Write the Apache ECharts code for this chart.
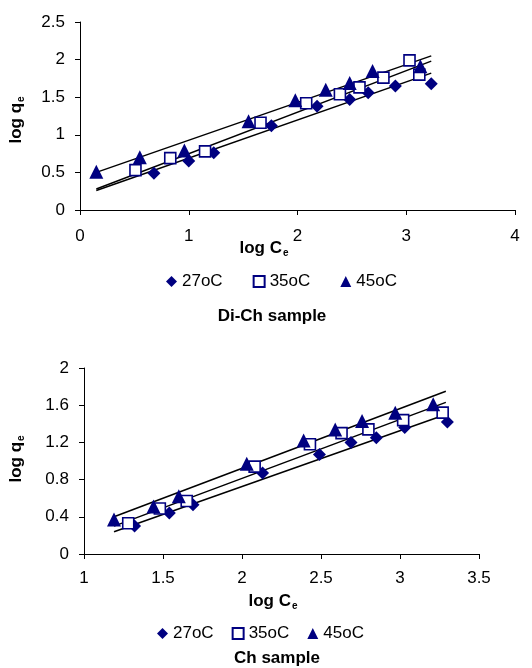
<!DOCTYPE html>
<html><head><meta charset="utf-8">
<script src="https://cdn.jsdelivr.net/npm/echarts@6/dist/echarts.min.js"></script>
<style>html,body{margin:0;padding:0;background:#fff}#c{width:532px;height:668px}</style>
</head><body><div id="c"></div>
<script>
const seriesNames = ['27oC', '35oC', '45oC'];

// Di-Ch sample (top chart): [log Ce, log qe]
const diCh27 = [[0.68,0.49],[1.00,0.65],[1.23,0.76],[1.76,1.12],[2.18,1.38],[2.48,1.47],[2.65,1.56],[2.90,1.65],[3.23,1.68]];
const diCh35 = [[0.51,0.53],[0.83,0.69],[1.15,0.78],[1.66,1.16],[2.08,1.42],[2.39,1.54],[2.57,1.63],[2.79,1.76],[3.03,1.99],[3.12,1.80]];
const diCh45 = [[0.15,0.51],[0.55,0.70],[0.96,0.79],[1.55,1.18],[1.98,1.46],[2.26,1.60],[2.48,1.69],[2.69,1.85],[3.13,1.91]];
const diChTrend27 = [[0.15,0.26],[3.23,1.82]];
const diChTrend35 = [[0.15,0.28],[3.23,1.98]];
const diChTrend45 = [[0.15,0.50],[3.23,2.05]];
const diChXTicks = [0, 1, 2, 3, 4];
const diChYTicks = [0, 0.5, 1, 1.5, 2, 2.5];

// Ch sample (bottom chart)
const ch27 = [[1.32,0.30],[1.54,0.44],[1.69,0.53],[2.13,0.87],[2.49,1.07],[2.69,1.20],[2.85,1.25],[3.03,1.36],[3.30,1.42]];
const ch35 = [[1.28,0.33],[1.48,0.49],[1.65,0.57],[2.08,0.94],[2.43,1.18],[2.63,1.30],[2.80,1.34],[3.02,1.44],[3.27,1.52]];
const ch45 = [[1.19,0.37],[1.44,0.51],[1.60,0.62],[2.03,0.97],[2.39,1.22],[2.59,1.34],[2.76,1.43],[2.97,1.52],[3.21,1.61]];
const chTrend27 = [[1.19,0.24],[3.29,1.50]];
const chTrend35 = [[1.19,0.30],[3.29,1.63]];
const chTrend45 = [[1.19,0.40],[3.29,1.75]];
const chXTicks = [1, 1.5, 2, 2.5, 3, 3.5];
const chYTicks = [0, 0.4, 0.8, 1.2, 1.6, 2];

const titles = ['Di-Ch sample', 'Ch sample'];

const FONT = '"Liberation Sans", Arial, sans-serif';
const NAVY = '#000080';
const FS = 17;

const chart = echarts.init(document.getElementById('c'), null, {renderer: 'canvas'});

function xAxis(gi, ticks, margin) {
  return {
    type: 'value', gridIndex: gi,
    min: ticks[0], max: ticks[ticks.length - 1], interval: ticks[1] - ticks[0],
    axisLine: {show: true, lineStyle: {color: '#000', width: 1}},
    axisTick: {show: true, length: 5, lineStyle: {color: '#000'}},
    axisLabel: {color: '#000', fontSize: FS, fontFamily: FONT, margin},
    splitLine: {show: false}
  };
}
function yAxis(gi, ticks) {
  return {
    type: 'value', gridIndex: gi,
    min: ticks[0], max: ticks[ticks.length - 1], interval: +(ticks[1] - ticks[0]).toFixed(2),
    axisLine: {show: true, lineStyle: {color: '#000', width: 1}},
    axisTick: {show: true, length: 5, lineStyle: {color: '#000'}},
    axisLabel: {color: '#000', fontSize: FS, fontFamily: FONT, margin: 15},
    splitLine: {show: false}
  };
}
function scatter(name, data, gi, symbol, size, hollow) {
  return {
    type: 'scatter', name, data, xAxisIndex: gi, yAxisIndex: gi,
    symbol, symbolSize: size,
    itemStyle: hollow ? {color: '#fff', borderColor: NAVY, borderWidth: 1.6, opacity: 1} : {color: NAVY, opacity: 1},
    z: 3, emphasis: {disabled: true}
  };
}
function trend(data, gi) {
  return {
    type: 'line', data, xAxisIndex: gi, yAxisIndex: gi,
    showSymbol: false, symbol: 'none',
    lineStyle: {color: '#000', width: 1.5}, z: 2, silent: true
  };
}
function legend(top, left, gap) {
  return {
    top, left, itemGap: gap, itemWidth: 11, itemHeight: 11, padding: 0,
    selectedMode: false,
    textStyle: {color: '#000', fontSize: FS, fontFamily: FONT},
    data: [
      {name: seriesNames[0], icon: 'diamond'},
      {name: seriesNames[1], icon: 'rect'},
      {name: seriesNames[2], icon: 'triangle'}
    ]
  };
}
const richLbl = {
  m: {fontSize: 17, fontWeight: 'bold', fontFamily: FONT, fill: '#000'},
  s: {fontSize: 10, fontWeight: 'bold', fontFamily: FONT, fill: '#000', padding: [10, 0, 0, 1]}
};
function txt(x, y, text, rot) {
  return {
    type: 'text', x, y, rotation: rot || 0,
    style: {text, rich: richLbl, align: 'center', verticalAlign: 'middle', fill: '#000'}
  };
}

chart.setOption({
  animation: false,
  grid: [
    {left: 80, top: 22, width: 435, height: 188},
    {left: 84, top: 368, width: 395, height: 186}
  ],
  xAxis: [xAxis(0, diChXTicks, 18), xAxis(1, chXTicks, 16)],
  yAxis: [yAxis(0, diChYTicks), yAxis(1, chYTicks)],
  legend: [legend(273, 166, 30), legend(625, 157, 18)],
  series: [
    trend(diChTrend27, 0), trend(diChTrend35, 0), trend(diChTrend45, 0),
    scatter(seriesNames[0], diCh27, 0, 'diamond', 13, false),
    scatter(seriesNames[1], diCh35, 0, 'rect', 11, true),
    scatter(seriesNames[2], diCh45, 0, 'triangle', 14, false),
    trend(chTrend27, 1), trend(chTrend35, 1), trend(chTrend45, 1),
    scatter(seriesNames[0], ch27, 1, 'diamond', 13, false),
    scatter(seriesNames[1], ch35, 1, 'rect', 11, true),
    scatter(seriesNames[2], ch45, 1, 'triangle', 14, false)
  ],
  graphic: [
    txt(264, 248, '{m|log C}{s|e}'),
    txt(16, 120, '{m|log q}{s|e}', Math.PI / 2),
    txt(273, 601, '{m|log C}{s|e}'),
    txt(16, 459, '{m|log q}{s|e}', Math.PI / 2),
    {type: 'text', x: 272, y: 316, style: {text: titles[0], font: 'bold 17px ' + FONT, fill: '#000', align: 'center', verticalAlign: 'middle'}},
    {type: 'text', x: 277, y: 658, style: {text: titles[1], font: 'bold 17px ' + FONT, fill: '#000', align: 'center', verticalAlign: 'middle'}}
  ]
});
</script></body></html>
